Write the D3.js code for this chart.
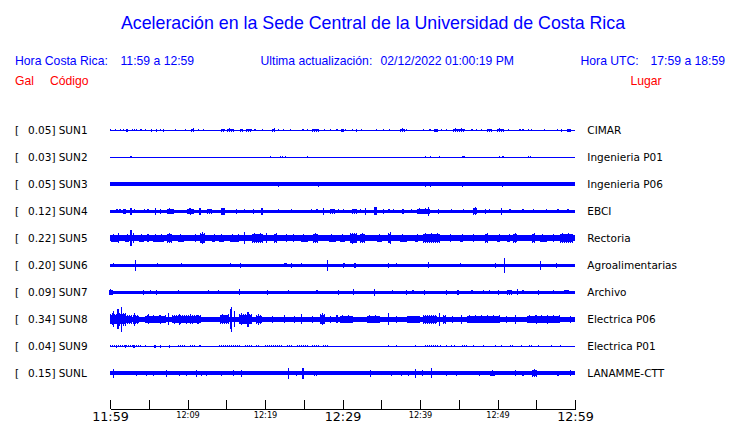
<!DOCTYPE html>
<html>
<head>
<meta charset="utf-8">
<script src="https://cdn.jsdelivr.net/npm/d3@7"></script>
<style>
  html, body { margin: 0; padding: 0; background: #fff; }
  svg { display: block; }
</style>
</head>
<body>
<svg id="chart" width="740" height="423"></svg>
<script>
// ---------------- data ----------------
const titleText = "Aceleración en la Sede Central de la Universidad de Costa Rica";
const localRange = "11:59 a 12:59";
const utcRange = "17:59 a 18:59";
const updatedAt = "02/12/2022 01:00:19 PM";

const stations = ["SUN1","SUN2","SUN3","SUN4","SUN5","SUN6","SUN7","SUN8","SUN9","SUNL"];
const peakGal  = [0.05, 0.03, 0.05, 0.12, 0.22, 0.20, 0.09, 0.34, 0.04, 0.15];
const places   = ["CIMAR","Ingenieria P01","Ingenieria P06","EBCI","Rectoria","Agroalimentarias","Archivo","Electrica P06","Electrica P01","LANAMME-CTT"];
// background (noise) half-amplitude of each trace, Gal
const baseGal  = [0.012, 0.012, 0.05, 0.045, 0.08, 0.042, 0.045, 0.075, 0.012, 0.05];

// minutes after 11:59
const tickMinutes = [0,5,10,15,20,25,30,35,40,45,50,55,60];
const tickLabels  = ["11:59","","12:09","","12:19","","12:29","","12:39","","12:49","","12:59"];
const majorTicks  = ["11:59","12:29","12:59"];

// bursts of each trace: [start minute, end minute, half-amplitude Gal]
const sun1 = [[0.1,0.1,.03],[0.7,0.7,.03],[1.4,1.4,.03],[1.7,1.7,.03],[2.2,2.2,.04],[2.9,3.5,.03],[4.0,4.0,.03],[4.6,4.6,.03],[5.4,5.4,.04],[6.0,6.0,.04],[6.5,6.5,.03],[6.9,6.9,.04],[8.5,8.5,.03],[9.7,9.7,.03],[10.5,10.9,.05],[11.4,11.4,.03],[12.1,12.1,.03],[14.3,14.8,.04],[15.1,15.9,.05],[16.8,17.2,.04],[17.6,18.3,.04],[18.7,18.7,.03],[19.7,19.7,.03],[20.9,21.3,.05],[21.7,21.7,.03],[22.4,22.4,.03],[23.3,23.3,.03],[24.9,24.9,.03],[25.5,25.5,.03],[26.0,26.9,.04],[27.7,27.7,.03],[28.4,28.4,.03],[29.3,29.3,.03],[29.9,30.1,.04],[30.4,30.4,.03],[31.3,31.3,.03],[31.8,31.8,.04],[32.5,32.5,.03],[34.4,34.4,.03],[35.3,35.3,.03],[36.1,36.1,.03],[37.4,38.1,.05],[38.3,38.3,.03],[40.4,40.4,.03],[41.3,41.3,.03],[41.9,42.2,.04],[42.8,42.8,.03],[43.4,43.4,.03],[44.3,45.8,.05],[46.7,46.7,.03],[47.3,47.3,.03],[47.9,47.9,.03],[48.6,49.2,.04],[49.9,50.7,.05],[51.4,51.4,.03],[52.9,52.9,.03],[53.3,53.3,.03],[54.0,54.0,.03],[54.4,54.4,.03],[56.1,56.1,.03],[57.7,57.7,.03],[58.3,58.3,.04],[59.1,59.4,.04]];
const sun2 = [[2.7,2.7,.03],[20.7,20.7,.025],[22.0,22.0,.03],[22.3,22.3,.025],[22.6,22.6,.025],[25.5,25.5,.03],[40.7,40.7,.03],[41.4,41.4,.025],[42.5,42.5,.025],[45.5,45.7,.03],[50.3,50.3,.025],[50.7,50.7,.03],[54.0,54.0,.025],[54.3,54.3,.025]];
const sun3 = [[16.6,16.6,.04],[21.7,21.7,.075],[26.9,26.9,.075],[40.7,40.7,.07],[41.4,41.4,.075],[45.5,45.5,.075],[50.6,50.6,.075]];
const sun4 = [[0.9,0.9,.055],[1.3,1.3,.055],[1.8,2.0,.07],[2.6,2.8,.09],[3.2,3.2,.055],[4.5,4.5,.055],[4.9,4.9,.055],[5.9,5.9,.09],[6.5,6.5,.07],[7.3,8.2,.08],[9.9,10.7,.08],[10.4,10.4,.1],[11.6,11.6,.09],[12.5,13.1,.07],[14.4,14.7,.09],[16.3,16.3,.07],[17.4,17.4,.055],[18.5,18.5,.07],[19.6,19.6,.09],[21.7,21.7,.055],[23.4,23.4,.05],[26.0,26.0,.055],[26.7,26.7,.055],[27.5,27.5,.09],[28.4,29.0,.07],[29.5,29.5,.055],[30.1,30.1,.055],[31.2,31.8,.07],[32.3,32.3,.055],[33.0,33.0,.09],[34.1,34.4,.11],[35.3,35.3,.07],[36.0,36.0,.055],[36.6,36.6,.055],[37.8,37.8,.07],[38.9,38.9,.055],[39.6,41.3,.08],[41.1,41.1,.12],[42.4,42.4,.07],[44.1,44.1,.055],[45.6,45.6,.055],[46.9,47.3,.11],[48.4,48.4,.07],[49.0,49.0,.055],[50.5,50.5,.09],[51.6,51.6,.055],[53.3,53.3,.055],[54.6,54.6,.055],[56.3,56.3,.055],[57.8,57.8,.055],[59.1,59.1,.055]];
const sun5 = [[0.1,0.9,.11],[1.1,1.1,.135],[1.9,2.4,.11],[2.7,2.7,.22],[3.0,3.0,.135],[3.7,4.3,.11],[4.9,4.9,.11],[5.6,6.9,.11],[7.3,8.0,.135],[8.8,9.5,.11],[11.0,11.0,.11],[11.6,12.3,.16],[13.1,13.5,.11],[14.0,14.6,.11],[15.5,16.6,.11],[17.4,17.4,.16],[18.3,19.6,.135],[20.2,20.2,.135],[21.1,21.5,.135],[22.8,22.8,.11],[23.7,23.7,.11],[24.7,25.6,.11],[26.2,26.9,.135],[28.2,29.0,.11],[29.7,30.3,.11],[31.0,31.8,.15],[32.3,32.9,.135],[34.4,35.1,.11],[35.9,36.3,.16],[37.4,38.3,.11],[39.4,39.8,.11],[40.4,42.6,.135],[43.9,43.9,.11],[45.2,45.6,.11],[46.9,46.9,.11],[48.4,48.8,.135],[49.9,50.3,.11],[51.2,51.6,.11],[52.0,52.5,.135],[54.4,54.8,.135],[55.5,56.3,.11],[57.2,57.2,.11],[58.1,59.8,.135]];
const sun6 = [[0.4,0.4,.055],[3.3,3.3,.145],[6.1,6.1,.055],[9.2,9.2,.055],[12.3,12.3,.045],[15.5,15.5,.055],[16.8,16.8,.07],[18.9,18.9,.045],[22.5,22.7,.055],[23.4,23.4,.07],[24.7,24.7,.055],[28.1,28.1,.145],[30.1,30.1,.07],[30.3,30.3,.055],[31.6,31.6,.07],[35.9,35.9,.07],[37.0,37.0,.055],[41.1,41.1,.08],[45.2,45.2,.055],[49.7,49.7,.07],[50.9,50.9,.2],[55.5,55.5,.13],[57.6,57.6,.07],[59.4,59.4,.045]];
const sun7 = [[0.0,0.3,.07],[0.1,0.1,.08],[4.3,4.3,.07],[5.2,5.2,.055],[6.0,6.0,.07],[8.8,8.8,.055],[12.7,12.7,.055],[14.0,14.0,.055],[16.7,16.7,.08],[20.3,20.3,.07],[23.0,23.0,.055],[26.7,26.7,.055],[29.5,29.5,.07],[31.4,31.4,.08],[34.1,34.1,.09],[36.4,36.4,.055],[38.3,38.3,.07],[39.1,39.1,.055],[40.6,40.6,.07],[43.4,43.4,.07],[44.9,44.9,.07],[46.7,46.7,.055],[48.2,48.2,.055],[49.0,49.0,.055],[50.1,50.1,.07],[51.2,51.8,.07],[52.6,52.6,.08],[53.3,53.3,.055],[55.3,55.3,.07],[57.2,57.2,.055],[58.6,59.2,.055]];
const sun8 = [[0.0,1.0,.16],[0.4,0.4,.22],[1.0,1.1,.27],[1.5,1.5,.34],[1.1,1.9,.2],[1.9,2.8,.13],[3.0,3.7,.13],[3.2,3.2,.17],[4.5,7.1,.11],[5.0,5.0,.14],[6.5,6.5,.13],[7.5,7.5,.16],[8.0,11.8,.12],[9.0,9.0,.15],[10.4,10.4,.14],[11.3,11.3,.13],[14.2,15.3,.14],[15.5,15.5,.27],[15.7,15.7,.34],[16.1,16.1,.22],[16.6,18.3,.16],[17.8,17.8,.2],[18.9,19.6,.13],[19.2,19.2,.15],[21.0,21.0,.1],[22.5,22.5,.11],[23.8,23.8,.1],[24.7,24.7,.14],[26.1,26.1,.1],[27.1,27.7,.16],[28.5,28.5,.1],[29.3,29.3,.11],[29.7,31.4,.11],[33.1,34.8,.11],[35.9,35.9,.16],[37.0,37.0,.1],[38.3,40.0,.1],[40.4,42.2,.13],[42.5,42.5,.18],[43.0,43.4,.13],[44.2,44.2,.1],[45.4,45.4,.13],[46.0,50.3,.11],[51.2,51.2,.1],[52.3,52.3,.13],[53.8,58.1,.11],[55.0,55.0,.13],[56.5,56.5,.12],[59.4,59.4,.1]];
const sun9 = [[0.0,4.1,.03],[0.8,0.8,.04],[2.0,2.0,.04],[3.1,3.1,.04],[4.3,5.2,.025],[5.8,5.8,.035],[6.5,6.5,.035],[7.7,7.7,.04],[8.8,9.7,.03],[10.3,11.0,.03],[11.6,11.6,.03],[14.0,16.6,.03],[17.4,18.3,.03],[18.9,19.4,.03],[20.0,22.2,.03],[22.8,23.4,.03],[24.1,25.6,.03],[26.0,26.9,.03],[27.5,28.2,.03],[35.9,35.9,.03],[37.0,37.0,.03],[39.4,39.4,.03],[40.6,42.2,.03],[42.6,42.6,.03],[43.4,43.4,.03],[44.1,44.1,.03],[44.5,44.5,.03],[45.4,46.0,.03],[46.9,46.9,.03],[48.2,48.2,.03],[49.7,49.7,.025],[50.5,50.5,.03],[51.6,52.0,.03],[53.1,53.1,.025],[54.0,54.4,.03],[55.3,55.3,.03],[57.0,57.0,.025],[58.1,58.1,.025]];
const sunL = [[0.4,0.4,.12],[0.9,0.9,.055],[2.4,2.4,.055],[3.4,3.4,.07],[4.7,4.7,.07],[5.6,5.6,.07],[7.3,7.3,.095],[8.2,8.2,.055],[9.0,9.0,.07],[9.9,9.9,.07],[11.2,11.2,.095],[11.8,11.8,.07],[12.5,12.5,.07],[13.5,13.5,.055],[14.4,14.4,.07],[15.9,15.9,.08],[17.0,17.0,.095],[18.9,18.9,.055],[19.6,19.6,.055],[21.3,21.3,.055],[23.0,23.0,.15],[24.1,24.1,.07],[24.9,24.9,.15],[26.3,26.7,.065],[32.5,32.5,.055],[33.6,33.6,.095],[34.8,34.8,.055],[36.3,36.3,.07],[37.6,37.6,.07],[38.5,38.5,.07],[39.4,39.4,.12],[40.3,40.3,.08],[41.5,41.5,.135],[42.6,42.6,.055],[43.4,43.4,.07],[44.7,44.7,.07],[47.7,47.7,.07],[49.0,49.6,.08],[50.7,50.7,.055],[52.3,52.3,.08],[53.3,53.3,.07],[54.5,55.1,.11],[56.6,56.6,.055],[57.8,57.8,.07],[59.4,59.4,.08]];
const bursts = [sun1, sun2, sun3, sun4, sun5, sun6, sun7, sun8, sun9, sunL];

// ---------------- drawing ----------------
const BLUE = "#0000ff", RED = "#ff0000";
const svg = d3.select("#chart");
svg.append("rect").attr("width", 740).attr("height", 423).attr("fill", "#fff");

const x = d3.scaleLinear().domain([0, 60]).range([110, 575]);
const y = d3.scalePoint().domain(stations).range([130.3, 373.3]);
const amp = d3.scaleLinear().domain([0, 0.34]).range([0, 12.5]);

const headFont = "'Liberation Sans', Arial, sans-serif";
const labFont = "'DejaVu Sans', sans-serif";

// title & header
svg.append("text").attr("x", 373).attr("y", 29).attr("text-anchor", "middle")
  .attr("font-family", headFont).attr("font-size", 17.8).attr("fill", BLUE).text(titleText);

const head = [
  {t: "Hora Costa Rica:", x: 15},
  {t: localRange, x: 120.5},
  {t: "Ultima actualización:", x: 260.5},
  {t: updatedAt, x: 380.5},
  {t: "Hora UTC:", x: 580.5},
  {t: utcRange, x: 650.5}
];
svg.selectAll("text.head").data(head).join("text").attr("class", "head")
  .attr("x", d => d.x).attr("y", 65).attr("font-family", headFont)
  .attr("font-size", 12.2).attr("fill", BLUE).text(d => d.t);

const sub = [{t: "Gal", x: 15}, {t: "Código", x: 50}, {t: "Lugar", x: 630.5}];
svg.selectAll("text.sub").data(sub).join("text").attr("class", "sub")
  .attr("x", d => d.x).attr("y", 84.5).attr("font-family", headFont)
  .attr("font-size", 12.2).attr("fill", RED).text(d => d.t);

// rows
const rows = stations.map((s, i) => ({s, peak: peakGal[i], place: places[i], base: baseGal[i], bursts: bursts[i]}));
const g = svg.append("g");
const row = g.selectAll("g.row").data(rows).join("g").attr("class", "row");

row.append("text").attr("x", 15).attr("y", d => y(d.s) + 4)
  .attr("font-family", labFont).attr("font-size", 10.5).attr("fill", "#000").text("[");
row.append("text").attr("x", 55.5).attr("y", d => y(d.s) + 4).attr("text-anchor", "end")
  .attr("font-family", labFont).attr("font-size", 10.5).attr("fill", "#000").text(d => d.peak.toFixed(2) + "]");
row.append("text").attr("x", 58.7).attr("y", d => y(d.s) + 4)
  .attr("font-family", labFont).attr("font-size", 10.5).attr("fill", "#000").text(d => d.s);
row.append("text").attr("x", 587.3).attr("y", d => y(d.s) + 4)
  .attr("font-family", labFont).attr("font-size", 10.5).attr("fill", "#000").text(d => d.place);

// base noise band
row.append("rect")
  .attr("x", x(0)).attr("width", x(60) - x(0))
  .attr("y", d => y(d.s) - Math.max(amp(d.base), 0.5))
  .attr("height", d => Math.max(2 * amp(d.base), 1))
  .attr("fill", BLUE).attr("shape-rendering", "crispEdges");

// bursts: single spikes as thin bars; long bursts as a core band plus a comb of thin strokes
row.each(function(d) {
  const sel = d3.select(this);
  const cy = y(d.s);
  d.bursts.forEach(b => {
    const x0 = x(b[0]), x1 = x(b[1]);
    const w = x1 - x0;
    if (w < 3) {
      sel.append("rect").attr("x", x0 - 0.6).attr("width", w + 1.2)
        .attr("y", cy - amp(b[2])).attr("height", 2 * amp(b[2]))
        .attr("fill", BLUE).attr("shape-rendering", "crispEdges");
    } else {
      const core = (b[2] + Math.max(d.base, 0.012)) / 2;
      sel.append("rect").attr("x", x0).attr("width", w)
        .attr("y", cy - amp(core)).attr("height", 2 * amp(core))
        .attr("fill", BLUE).attr("shape-rendering", "crispEdges");
      d3.range(x0, x1 + 0.01, 2).forEach((px, k) => {
        const hh = amp(k % 3 === 1 ? b[2] : (b[2] + core) / 2);
        sel.append("rect").attr("x", px).attr("width", 1)
          .attr("y", cy - hh).attr("height", 2 * hh)
          .attr("fill", BLUE).attr("shape-rendering", "crispEdges");
      });
    }
  });
});

// time axis
const axis = d3.axisBottom(x).tickValues(tickMinutes)
  .tickSizeInner(-9).tickSizeOuter(0)
  .tickFormat((d, i) => tickLabels[i]);
const ax = svg.append("g").attr("transform", "translate(0,409)").call(axis);
ax.select(".domain").attr("stroke", "#000").attr("shape-rendering", "crispEdges");
ax.selectAll(".tick line").attr("stroke", "#000").attr("shape-rendering", "crispEdges");
ax.selectAll(".tick text")
  .attr("font-family", labFont).attr("fill", "#000")
  .attr("font-size", (d, i) => majorTicks.includes(tickLabels[i]) ? 12.7 : 8.2);
</script>
</body>
</html>
